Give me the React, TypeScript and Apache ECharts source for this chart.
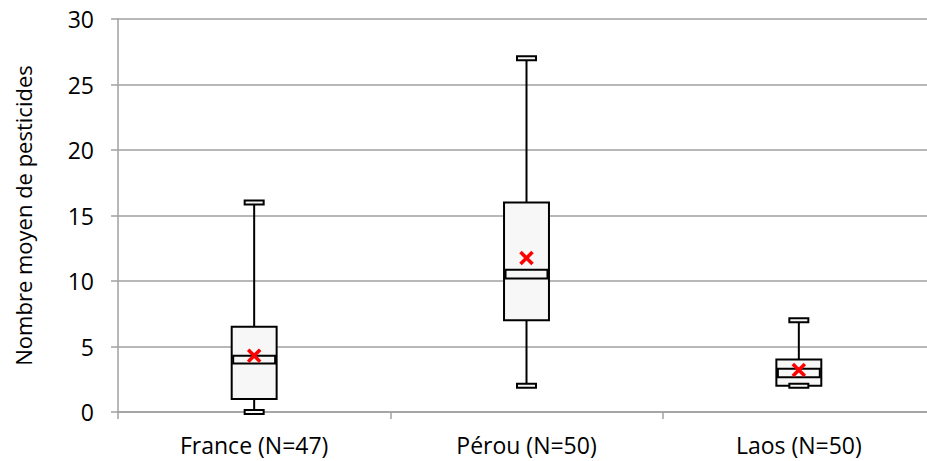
import React, { useEffect, useRef } from "react";
import * as echarts from "echarts";

const categories = ["France (N=47)", "Pérou (N=50)", "Laos (N=50)"];
const mins = [0, 2, 2];
const q1s = [1, 7, 2];
const medLows = [3.7, 10.2, 2.65];
const medHighs = [4.3, 10.85, 3.3];
const q3s = [6.5, 16, 4];
const maxs = [16, 27, 7];
const means = [4.3, 11.75, 3.2];
const yTicks = { min: 0, max: 30, interval: 5 };

const CHART_W = 945;
const CHART_H = 461;
const FONT = "'Open Sans', sans-serif";
const GRID_COLOR = "#a0a0a0";

export default function App() {
  const ref = useRef<HTMLDivElement>(null);
  useEffect(() => {
    if (!ref.current) return;
    const chart = echarts.init(ref.current, null, { renderer: "svg" });
    const boxData = categories.map((_, i) => [i, mins[i], q1s[i], medLows[i], medHighs[i], q3s[i], maxs[i]]);
    const meanData = categories.map((_, i) => [i, means[i]]);
    const option: any = {
      animation: false,
      grid: { left: 118, top: 19, right: CHART_W - 935, bottom: CHART_H - 412, outerBoundsMode: "none", containLabel: false },
      xAxis: {
        type: "category",
        data: categories,
        boundaryGap: true,
        axisLine: { show: true, lineStyle: { color: GRID_COLOR, width: 1.5 } },
        axisTick: { show: true, length: 7, interval: 0, lineStyle: { color: GRID_COLOR, width: 1.5 } },
        axisLabel: { color: "#000", fontSize: 23, fontFamily: FONT, margin: 21 },
        splitLine: { show: false },
      },
      yAxis: {
        type: "value",
        min: yTicks.min,
        max: yTicks.max,
        interval: yTicks.interval,
        name: "Nombre moyen de pesticides",
        nameLocation: "middle",
        nameGap: 84,
        nameRotate: 90,
        nameTextStyle: { color: "#000", fontSize: 22, fontFamily: FONT },
        axisLine: { show: true, lineStyle: { color: GRID_COLOR, width: 1.5 } },
        axisTick: { show: true, length: 7, lineStyle: { color: GRID_COLOR, width: 1.5 } },
        axisLabel: { color: "#000", fontSize: 23, fontFamily: FONT, margin: 24 },
        splitLine: { show: true, lineStyle: { color: GRID_COLOR, width: 1.5 } },
      },
      series: [
        {
          type: "custom",
          data: boxData,
          encode: { x: 0, y: [1, 2, 3, 4, 5, 6] },
          z: 3,
          renderItem: (params: any, api: any) => {
            const idx = api.value(0);
            const band = api.size([1, 0])[0];
            const boxW = band * 0.165;
            const medW = boxW - 3;
            const capW = 19;
            const capH = 4;
            const pMin = api.coord([idx, api.value(1)]);
            const pQ1 = api.coord([idx, api.value(2)]);
            const pML = api.coord([idx, api.value(3)]);
            const pMH = api.coord([idx, api.value(4)]);
            const pQ3 = api.coord([idx, api.value(5)]);
            const pMax = api.coord([idx, api.value(6)]);
            const cx = pMin[0];
            const stroke = { stroke: "#000", lineWidth: 2, fill: "#f7f7f7" };
            return {
              type: "group",
              children: [
                { type: "line", shape: { x1: cx, y1: pMin[1], x2: cx, y2: pMax[1] }, style: { stroke: "#000", lineWidth: 2 } },
                { type: "rect", shape: { x: cx - boxW / 2, y: pQ3[1], width: boxW, height: pQ1[1] - pQ3[1] }, style: stroke },
                { type: "rect", shape: { x: cx - medW / 2, y: pMH[1], width: medW, height: pML[1] - pMH[1] }, style: stroke },
                { type: "rect", shape: { x: cx - capW / 2, y: pMax[1] - capH / 2, width: capW, height: capH }, style: stroke },
                { type: "rect", shape: { x: cx - capW / 2, y: pMin[1] - capH / 2, width: capW, height: capH }, style: stroke },
              ],
            };
          },
        },
        {
          type: "custom",
          data: meanData,
          encode: { x: 0, y: 1 },
          z: 4,
          renderItem: (params: any, api: any) => {
            const p = api.coord([api.value(0), api.value(1)]);
            const s = 6;
            const st = { stroke: "#ff0000", lineWidth: 3.5 };
            return {
              type: "group",
              children: [
                { type: "line", shape: { x1: p[0] - s, y1: p[1] - s, x2: p[0] + s, y2: p[1] + s }, style: st },
                { type: "line", shape: { x1: p[0] - s, y1: p[1] + s, x2: p[0] + s, y2: p[1] - s }, style: st },
              ],
            };
          },
        },
      ],
    };
    chart.setOption(option);
    return () => chart.dispose();
  }, []);
  return (
    <div style={{ position: "fixed", left: 0, top: 0, width: 927, height: 461, overflow: "hidden", background: "#fff" }}>
      <div ref={ref} style={{ width: CHART_W, height: CHART_H }} />
    </div>
  );
}
